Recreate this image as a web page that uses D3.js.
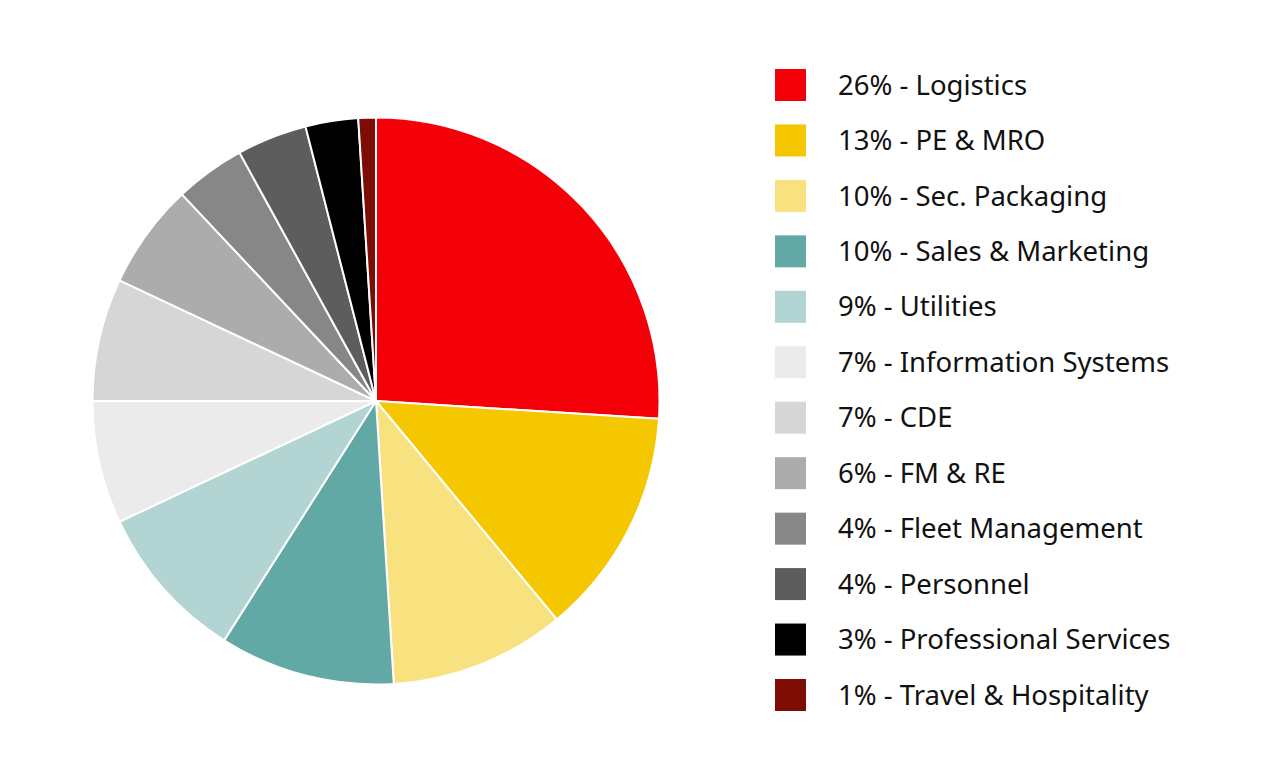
<!DOCTYPE html>
<html>

<head>
    <meta charset="utf-8">
    <title>Spend by Category</title>
    <script src="https://d3js.org/d3.v7.min.js"></script>
    <style>
        body {
            margin: 0;
            background: #fff;
            font-family: "Noto Sans", Lato, Arial, sans-serif;
        }

        .legend text {
            font-size: 27.5px;
            fill: #111;
        }
    </style>
</head>

<body>
    <svg width="1280" height="777"></svg>

    <script>
        // Categories and their share (%)
        const categories = ["Logistics", "PE & MRO", "Sec. Packaging", "Sales & Marketing", "Utilities",
            "Information Systems", "CDE", "FM & RE", "Fleet Management", "Personnel",
            "Professional Services", "Travel & Hospitality"];
        const shares = [26, 13, 10, 10, 9, 7, 7, 6, 4, 4, 3, 1];
        const colors = ["#f40009", "#f5c700", "#f8e17f", "#62a9a5", "#b2d4d2", "#ebebeb",
            "#d6d6d6", "#acacac", "#878787", "#5d5d5d", "#000000", "#7d0c05"];

        const data = categories.map((c, i) => ({ name: c, value: shares[i], color: colors[i] }));

        const svg = d3.select("svg");
        const cx = 376, cy = 401, radius = 283.5;

        const pie = d3.pie()
            .sort(null)
            .value(d => d.value);

        const arc = d3.arc()
            .innerRadius(0)
            .outerRadius(radius);

        const g = svg.append("g").attr("transform", "translate(" + cx + "," + cy + ")");

        g.selectAll("path")
            .data(pie(data))
            .enter().append("path")
            .attr("d", arc)
            .attr("fill", d => d.data.color)
            .attr("stroke", "#fff")
            .attr("stroke-width", 2)
            .attr("stroke-linejoin", "round");

        // Legend
        const y = d3.scalePoint()
            .domain(categories)
            .range([85, 695]);

        const legend = svg.append("g").attr("class", "legend");

        const rows = legend.selectAll("g")
            .data(data)
            .enter().append("g")
            .attr("transform", d => "translate(775," + y(d.name) + ")");

        rows.append("rect")
            .attr("x", 0)
            .attr("y", -16)
            .attr("width", 31)
            .attr("height", 32)
            .attr("fill", d => d.color);

        rows.append("text")
            .attr("x", 63)
            .attr("y", 0)
            .attr("dy", "0.35em")
            .text(d => d.value + "% - " + d.name);
    </script>
</body>

</html>
